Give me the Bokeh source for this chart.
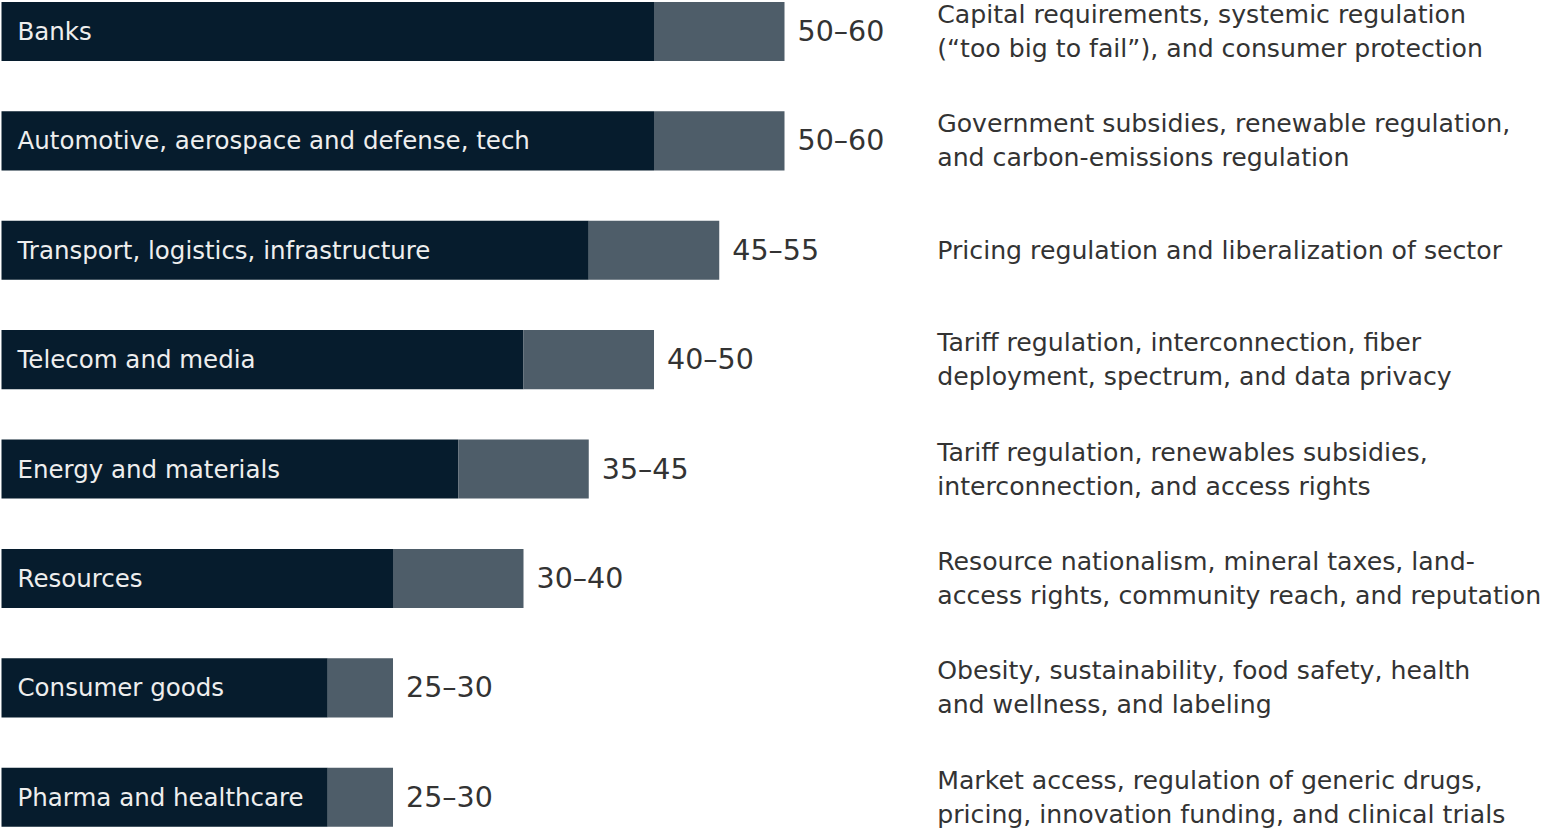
from bokeh.plotting import figure
from bokeh.models import ColumnDataSource, Range1d
from bokeh.core.properties import value
from bokeh.embed import file_html
from bokeh.resources import INLINE

sectors = ["Banks", "Automotive, aerospace and defense, tech", "Transport, logistics, infrastructure",
           "Telecom and media", "Energy and materials", "Resources", "Consumer goods", "Pharma and healthcare"]
low = [50, 50, 45, 40, 35, 30, 25, 25]
high = [60, 60, 55, 50, 45, 40, 30, 30]
descriptions = [
    "Capital requirements, systemic regulation\n(\u201ctoo big to fail\u201d), and consumer protection",
    "Government subsidies, renewable regulation,\nand carbon-emissions regulation",
    "Pricing regulation and liberalization of sector",
    "Tariff regulation, interconnection, fiber\ndeployment, spectrum, and data privacy",
    "Tariff regulation, renewables subsidies,\ninterconnection, and access rights",
    "Resource nationalism, mineral taxes, land-\naccess rights, community reach, and reputation",
    "Obesity, sustainability, food safety, health\nand wellness, and labeling",
    "Market access, regulation of generic drugs,\npricing, innovation funding, and clinical trials",
]

FONT = "DejaVu Sans"
W, H = 1549, 831
idx = list(range(len(sectors)))
src = ColumnDataSource(dict(
    y=idx, zero=[0] * len(idx), low=low, high=high, sector=sectors,
    rng=[f"{a}\u2013{b}" for a, b in zip(low, high)],
))

p = figure(width=W, height=H, output_backend="svg", toolbar_location=None,
           x_range=Range1d(-0.077, 118.62), y_range=Range1d(7.313, -0.283),
           min_border=0, min_border_left=0, min_border_right=0, min_border_top=0, min_border_bottom=0)
p.axis.visible = False
p.grid.visible = False
p.outline_line_color = None
p.background_fill_color = "white"

bh = 0.54
p.hbar(y="y", left="zero", right="low", height=bh, source=src, fill_color="#061c2d", line_color=None)
p.hbar(y="y", left="low", right="high", height=bh, source=src, fill_color="#4e5d69", line_color=None)

p.text(x="zero", y="y", text="sector", source=src, x_offset=16, text_baseline="middle",
       text_color="#eeeeee", text_font=value(FONT), text_font_size="24.5px")
p.text(x="high", y="y", text="rng", source=src, x_offset=13, text_baseline="middle",
       text_color="#333333", text_font=value(FONT), text_font_size="28.5px")

dx, dy, dt, doff = [], [], [], []
for i, d in enumerate(descriptions):
    lines = d.split("\n")
    n = len(lines)
    for k, ln in enumerate(lines):
        dx.append(71.7)
        dy.append(i)
        dt.append(ln)
        doff.append((k - (n - 1) / 2) * 34)
for off in sorted(set(doff)):
    sub = ColumnDataSource(dict(
        x=[a for a, o in zip(dx, doff) if o == off],
        y=[a for a, o in zip(dy, doff) if o == off],
        t=[a for a, o in zip(dt, doff) if o == off]))
    p.text(x="x", y="y", text="t", source=sub, y_offset=off, text_baseline="middle",
           text_color="#333333", text_font=value(FONT), text_font_size="25.2px")

open("out.html", "w").write(file_html(p, INLINE))
